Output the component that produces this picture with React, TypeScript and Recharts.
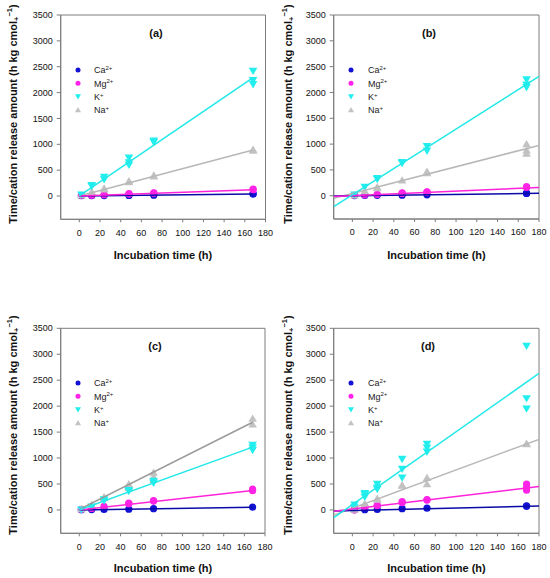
import React from 'react';
import { ComposedChart, Scatter, XAxis, YAxis, ReferenceArea } from 'recharts';

type P = [number, number];

const xTicks = [0, 20, 40, 60, 80, 100, 120, 140, 160, 180];
const yTicks = [0, 500, 1000, 1500, 2000, 2500, 3000, 3500];
const xDomain: [number, number] = [-18, 180];
const yDomain: [number, number] = [-450, 3500];

// Panel (a)
const aCa: P[] = [[2, 5], [12, 5], [24, 8], [48, 12], [72, 15], [168, 38], [168, 45]];
const aMg: P[] = [[2, 10], [12, 15], [24, 25], [48, 38], [48, 45], [72, 55], [72, 62], [168, 135], [168, 120]];
const aK: P[] = [[2, 25], [12, 190], [12, 210], [24, 320], [24, 370], [48, 600], [48, 650], [48, 740], [72, 1040], [72, 1070], [168, 2420], [168, 2240], [168, 2160]];
const aNa: P[] = [[2, 20], [12, 80], [24, 130], [24, 150], [48, 270], [48, 290], [72, 380], [72, 400], [168, 900], [168, 880]];
const aCaFit: P[] = [[0, 0], [168, 38]];
const aMgFit: P[] = [[0, 0], [168, 122]];
const aKFit: P[] = [[0, 5], [168, 2290]];
const aNaFit: P[] = [[0, 0], [168, 890]];

// Panel (b)
const bCa: P[] = [[2, 3], [12, 5], [24, 8], [48, 12], [72, 18], [168, 45], [168, 50]];
const bMg: P[] = [[2, 10], [12, 15], [24, 25], [48, 45], [48, 55], [72, 70], [72, 78], [168, 160], [168, 175]];
const bK: P[] = [[2, 20], [12, 170], [24, 320], [24, 340], [48, 630], [48, 650], [72, 960], [72, 870], [168, 2250], [168, 2150], [168, 2100]];
const bNa: P[] = [[2, 10], [12, 90], [24, 150], [24, 170], [48, 300], [72, 440], [72, 470], [168, 1000], [168, 880], [168, 820]];
const bCaFit: P[] = [[-18, -5], [180, 48]];
const bMgFit: P[] = [[-18, -15], [180, 160]];
const bKFit: P[] = [[-18, -210], [180, 2310]];
const bNaFit: P[] = [[-18, -50], [180, 975]];

// Panel (c)
const cCa: P[] = [[2, 5], [12, 8], [24, 10], [48, 15], [72, 25], [168, 55]];
const cMg: P[] = [[2, 10], [12, 30], [24, 70], [48, 120], [48, 130], [72, 170], [72, 180], [168, 400], [168, 370]];
const cK: P[] = [[2, 5], [12, 60], [24, 180], [24, 200], [48, 360], [48, 380], [72, 520], [72, 560], [168, 1250], [168, 1200], [168, 1150]];
const cNa: P[] = [[2, 20], [12, 100], [24, 230], [24, 250], [48, 420], [48, 450], [48, 500], [72, 580], [72, 640], [72, 720], [168, 1760], [168, 1650]];
const cCaFit: P[] = [[0, 0], [168, 50]];
const cMgFit: P[] = [[0, 0], [168, 375]];
const cKFit: P[] = [[0, 0], [168, 1210]];
const cNaFit: P[] = [[0, 10], [168, 1690]];

// Panel (d)
const dCa: P[] = [[2, 5], [12, 5], [24, 10], [48, 25], [72, 35], [168, 80], [168, 70]];
const dMg: P[] = [[2, 0], [2, 20], [12, 50], [12, 60], [24, 80], [24, 90], [48, 140], [48, 160], [72, 190], [72, 200], [168, 500], [168, 440], [168, 380]];
const dK: P[] = [[2, 50], [2, 100], [12, 250], [12, 300], [12, 320], [24, 400], [24, 430], [24, 500], [48, 620], [48, 790], [48, 980], [72, 1120], [72, 1200], [72, 1270], [168, 3160], [168, 2150], [168, 1950]];
const dNa: P[] = [[2, 10], [12, 100], [12, 120], [24, 200], [24, 220], [48, 470], [48, 480], [72, 500], [72, 620], [168, 1280], [168, 1270]];
const dCaFit: P[] = [[-18, -20], [180, 75]];
const dMgFit: P[] = [[-18, -25], [180, 450]];
const dKFit: P[] = [[-18, -150], [180, 2630]];
const dNaFit: P[] = [[-18, -100], [180, 1360]];

const FONT = '"Liberation Sans", Arial, sans-serif';
const FRAME = '#7c7c7c';
const C = {
  ca: '#1212d4',
  caLine: '#0a0aa8',
  mg: '#ff22e8',
  mgLine: '#ff22d8',
  k: '#22eeee',
  kLine: '#22e8e8',
  na: '#c2c2c2',
  naLine: '#b8b8b8',
};

const toPts = (arr: P[]) => arr.map(([x, y]) => ({ x, y }));

const CircleShape = (props: any) => {
  const { cx, cy, fill } = props;
  if (cx == null || cy == null) return <g />;
  return <circle cx={cx} cy={cy} r={3.6} fill={fill} />;
};
const TriDownShape = (props: any) => {
  const { cx, cy, fill } = props;
  if (cx == null || cy == null) return <g />;
  const s = 4.3;
  return <polygon points={`${cx - s},${cy - s * 0.75} ${cx + s},${cy - s * 0.75} ${cx},${cy + s * 0.95}`} fill={fill} />;
};
const TriUpShape = (props: any) => {
  const { cx, cy, fill } = props;
  if (cx == null || cy == null) return <g />;
  const s = 4.3;
  return <polygon points={`${cx - s},${cy + s * 0.75} ${cx + s},${cy + s * 0.75} ${cx},${cy - s * 0.95}`} fill={fill} />;
};
const NoShape = () => <g />;

type PanelProps = {
  ca: P[]; mg: P[]; k: P[]; na: P[];
  caFit: P[]; mgFit: P[]; kFit: P[]; naFit: P[];
  left: number; top: number;
  yWidth: number; mTop: number; mRight: number; mBottom: number;
  naLine?: string;
};

const Panel = (p: PanelProps) => (
  <div style={{ position: 'absolute', left: p.left, top: p.top, width: 275, height: 289 }}>
    <ComposedChart
      width={275}
      height={289}
      margin={{ top: p.mTop, right: p.mRight, bottom: p.mBottom, left: 0 }}
    >
      <XAxis
        type="number"
        dataKey="x"
        domain={xDomain}
        ticks={xTicks}
        allowDataOverflow
        height={30}
        tickSize={3}
        tickMargin={7}
        axisLine={{ stroke: FRAME }}
        tickLine={{ stroke: FRAME }}
        tick={{ fill: '#111', fontSize: 9, fontFamily: FONT }}
        interval={0}
      />
      <YAxis
        type="number"
        dataKey="y"
        domain={yDomain}
        ticks={yTicks}
        allowDataOverflow
        width={p.yWidth}
        tickSize={4}
        tickMargin={4}
        axisLine={{ stroke: FRAME }}
        tickLine={{ stroke: FRAME }}
        tick={{ fill: '#111', fontSize: 9, fontFamily: FONT }}
        interval={0}
      />
      <ReferenceArea x1={-18} x2={180} y1={-450} y2={3500} fill="none" stroke={FRAME} strokeWidth={1} ifOverflow="visible" />
      <Scatter data={toPts(p.ca)} fill={C.ca} shape={CircleShape} isAnimationActive={false} />
      <Scatter data={toPts(p.mg)} fill={C.mg} shape={CircleShape} isAnimationActive={false} />
      <Scatter data={toPts(p.na)} fill={C.na} shape={TriUpShape} isAnimationActive={false} />
      <Scatter data={toPts(p.k)} fill={C.k} shape={TriDownShape} isAnimationActive={false} />
      <Scatter data={toPts(p.naFit)} fill={p.naLine || C.naLine} line={{ stroke: p.naLine || C.naLine, strokeWidth: 1.5 }} shape={NoShape} isAnimationActive={false} />
      <Scatter data={toPts(p.caFit)} fill={C.caLine} line={{ stroke: C.caLine, strokeWidth: 1.5 }} shape={NoShape} isAnimationActive={false} />
      <Scatter data={toPts(p.mgFit)} fill={C.mgLine} line={{ stroke: C.mgLine, strokeWidth: 1.5 }} shape={NoShape} isAnimationActive={false} />
      <Scatter data={toPts(p.kFit)} fill={C.kLine} line={{ stroke: C.kLine, strokeWidth: 1.5 }} shape={NoShape} isAnimationActive={false} />
    </ComposedChart>
  </div>
);

const legendItems = [
  { name: 'Ca', sup: '2+', color: C.ca, kind: 'circle' },
  { name: 'Mg', sup: '2+', color: C.mg, kind: 'circle' },
  { name: 'K', sup: '+', color: C.k, kind: 'down' },
  { name: 'Na', sup: '+', color: C.na, kind: 'up' },
];

const LegendBlock = ({ mx, tx, y0 }: { mx: number; tx: number; y0: number }) => (
  <g>
    {legendItems.map((it, i) => {
      const y = y0 + i * 13.3;
      const s = 3;
      let marker;
      if (it.kind === 'circle') marker = <circle cx={mx} cy={y} r={2.5} fill={it.color} />;
      else if (it.kind === 'down') marker = <polygon points={`${mx - s},${y - s * 0.75} ${mx + s},${y - s * 0.75} ${mx},${y + s * 0.95}`} fill={it.color} />;
      else marker = <polygon points={`${mx - s},${y + s * 0.75} ${mx + s},${y + s * 0.75} ${mx},${y - s * 0.95}`} fill={it.color} />;
      return (
        <g key={it.name}>
          {marker}
          <text x={tx} y={y + 3.4} fontSize={9} fontFamily={FONT} fill="#222">
            {it.name}
            <tspan fontSize={6} dy={-3.5}>{it.sup}</tspan>
          </text>
        </g>
      );
    })}
  </g>
);

const YTitle = ({ x, cy }: { x: number; cy: number }) => (
  <text
    x={x}
    y={cy}
    transform={`rotate(-90, ${x}, ${cy})`}
    textAnchor="middle"
    fontSize={11}
    fontWeight="bold"
    fontFamily={FONT}
    fill="#111"
  >
    Time/cation release amount (h kg cmol
    <tspan fontSize={7.5} dy={2.5}>+</tspan>
    <tspan fontSize={7.5} dy={-7}>−1</tspan>
    <tspan dy={4.5}>)</tspan>
  </text>
);

const XTitle = ({ cx, y }: { cx: number; y: number }) => (
  <text x={cx} y={y} textAnchor="middle" fontSize={11} fontWeight="bold" fontFamily={FONT} fill="#111">
    Incubation time (h)
  </text>
);

const PanelLabel = ({ cx, y, t }: { cx: number; y: number; t: string }) => (
  <text x={cx} y={y} textAnchor="middle" fontSize={11} fontWeight="bold" fontFamily={FONT} fill="#111">
    {t}
  </text>
);

export default function App() {
  return (
    <div style={{ position: 'absolute', left: 0, top: 0, width: 550, height: 578, background: '#fff', overflow: 'hidden' }}>
      <Panel ca={aCa} mg={aMg} k={aK} na={aNa} caFit={aCaFit} mgFit={aMgFit} kFit={aKFit} naFit={aNaFit}
        left={0} top={0} yWidth={60.7} mTop={15} mRight={9.5} mBottom={39.7} />
      <Panel ca={bCa} mg={bMg} k={bK} na={bNa} caFit={bCaFit} mgFit={bMgFit} kFit={bKFit} naFit={bNaFit}
        left={275} top={0} yWidth={58.7} mTop={15} mRight={11} mBottom={40} />
      <Panel ca={cCa} mg={cMg} k={cK} na={cNa} caFit={cCaFit} mgFit={cMgFit} kFit={cKFit} naFit={cNaFit}
        left={0} top={289} yWidth={60.7} mTop={39.3} mRight={10} mBottom={14.7} naLine="#9a9a9a" />
      <Panel ca={dCa} mg={dMg} k={dK} na={dNa} caFit={dCaFit} mgFit={dMgFit} kFit={dKFit} naFit={dNaFit}
        left={275} top={289} yWidth={58.7} mTop={39.3} mRight={11} mBottom={14.7} />
      <svg width={550} height={578} style={{ position: 'absolute', left: 0, top: 0, pointerEvents: 'none' }}>
        <PanelLabel cx={156} y={37} t="(a)" />
        <PanelLabel cx={429} y={37} t="(b)" />
        <PanelLabel cx={155} y={350} t="(c)" />
        <PanelLabel cx={428} y={350} t="(d)" />
        <LegendBlock mx={78} tx={94} y0={70} />
        <LegendBlock mx={351} tx={368} y0={70} />
        <LegendBlock mx={78} tx={94} y0={383} />
        <LegendBlock mx={351} tx={368} y0={383} />
        <YTitle x={16.5} cy={114} />
        <YTitle x={291.5} cy={114} />
        <YTitle x={16.5} cy={425} />
        <YTitle x={291.5} cy={425} />
        <XTitle cx={163} y={258.5} />
        <XTitle cx={436.5} y={258.5} />
        <XTitle cx={163} y={571.5} />
        <XTitle cx={436.5} y={571.5} />
      </svg>
    </div>
  );
}
